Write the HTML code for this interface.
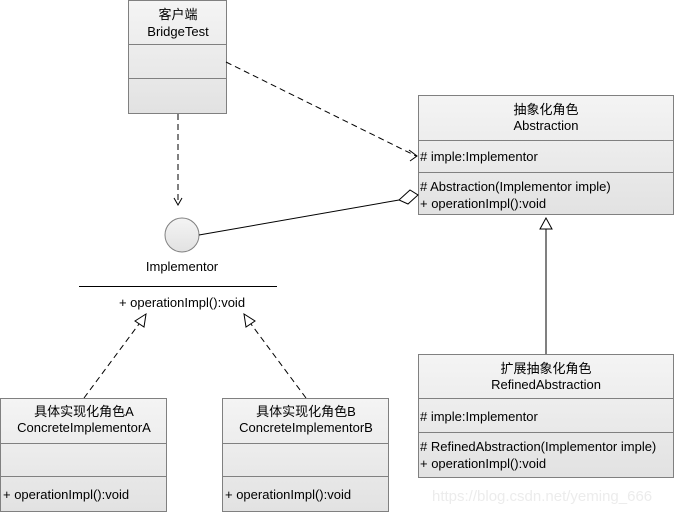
<!DOCTYPE html>
<html><head><meta charset="utf-8"><style>
html,body{margin:0;padding:0;background:#fff;width:674px;height:513px;overflow:hidden}
text{font-family:"Liberation Sans","Noto Sans CJK SC",sans-serif;font-size:13px;fill:#000}
</style></head><body>
<svg width="674" height="513" xmlns="http://www.w3.org/2000/svg">
<defs><linearGradient id="g" x1="0" y1="0" x2="0" y2="1"><stop offset="0" stop-color="#f4f4f4"/><stop offset="1" stop-color="#e2e2e2"/></linearGradient></defs>
<g stroke="#808080" fill="url(#g)">
<rect x="128.5" y="0.5" width="98" height="113"/><line x1="128" y1="44.5" x2="227" y2="44.5"/><line x1="128" y1="78.5" x2="227" y2="78.5"/>
<rect x="418.5" y="95.5" width="255" height="119"/><line x1="418" y1="140.5" x2="674" y2="140.5"/><line x1="418" y1="172.5" x2="674" y2="172.5"/>
<rect x="418.5" y="354.5" width="255" height="123"/><line x1="418" y1="398.5" x2="674" y2="398.5"/><line x1="418" y1="432.5" x2="674" y2="432.5"/>
<rect x="0.5" y="398.5" width="166" height="113"/><line x1="0" y1="443.5" x2="167" y2="443.5"/><line x1="0" y1="476.5" x2="167" y2="476.5"/>
<rect x="222.5" y="398.5" width="166" height="113"/><line x1="222" y1="443.5" x2="389" y2="443.5"/><line x1="222" y1="476.5" x2="389" y2="476.5"/>
<circle cx="182" cy="235" r="17"/>
</g>
<line x1="79" y1="286.5" x2="277" y2="286.5" stroke="#000" stroke-width="1"/>
<g stroke="#000" fill="none">
<line x1="226" y1="62" x2="416" y2="156" stroke-dasharray="6,4"/>
<polyline points="409,150 417,156 410,161"/>
<line x1="178" y1="114" x2="178" y2="203" stroke-dasharray="6,4"/>
<polyline points="174,198 178,205 182,198"/>
<line x1="199" y1="235" x2="399" y2="200"/>
<polygon points="399,200 410,190 418,195 408,204" fill="#fff"/>
<line x1="546" y1="229" x2="546" y2="354"/>
<polygon points="546,218 540,229 552,229" fill="#fff"/>
<line x1="84" y1="398" x2="139" y2="324" stroke-dasharray="6,4"/>
<polygon points="146,314 135,321 144,327" fill="#fff"/>
<line x1="306" y1="398" x2="251" y2="324" stroke-dasharray="6,4"/>
<polygon points="244,314 246,327 255,321" fill="#fff"/>
</g>
<g text-anchor="middle">
<text x="178" y="19">客户端</text><text x="178" y="36">BridgeTest</text>
<text x="546" y="114">抽象化角色</text><text x="546" y="130">Abstraction</text>
<text x="546" y="373">扩展抽象化角色</text><text x="546" y="389">RefinedAbstraction</text>
<text x="84" y="416">具体实现化角色A</text><text x="84" y="432">ConcreteImplementorA</text>
<text x="306" y="416">具体实现化角色B</text><text x="306" y="432">ConcreteImplementorB</text>
<text x="182" y="271">Implementor</text>
<text x="182" y="307">+ operationImpl():void</text>
</g>
<text x="420" y="161"># imple:Implementor</text>
<text x="420" y="191"># Abstraction(Implementor imple)</text>
<text x="420" y="208">+ operationImpl():void</text>
<text x="420" y="421"># imple:Implementor</text>
<text x="420" y="451"># RefinedAbstraction(Implementor imple)</text>
<text x="420" y="468">+ operationImpl():void</text>
<text x="3" y="499">+ operationImpl():void</text>
<text x="225" y="499">+ operationImpl():void</text>
<text x="432" y="501" style="font-size:15px;fill:#ececec">https://blog.csdn.net/yeming_666</text>
</svg>
</body></html>
